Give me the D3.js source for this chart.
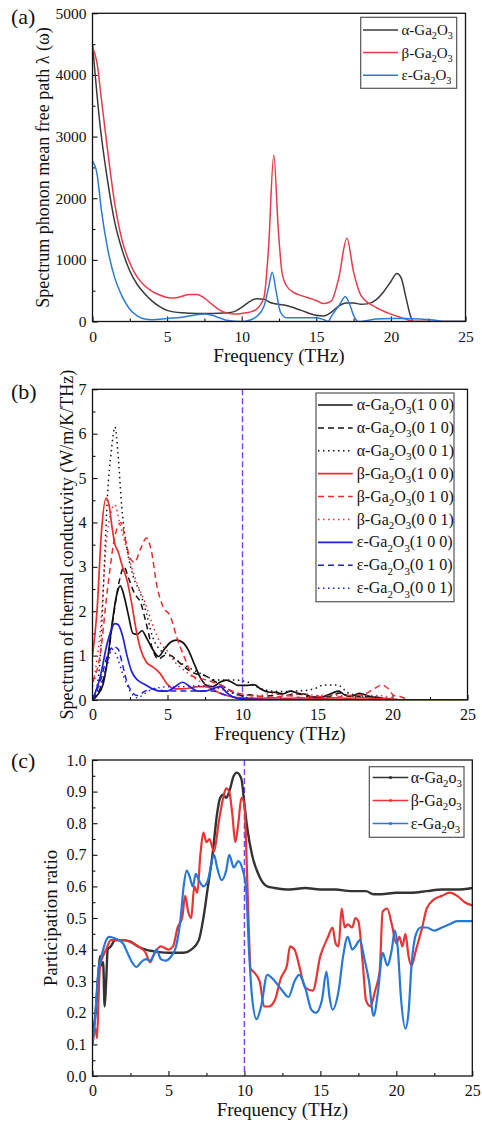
<!DOCTYPE html>
<html><head><meta charset="utf-8">
<script src="https://cdn.jsdelivr.net/npm/d3@7"></script>
<style>body{margin:0;background:#fff}svg{display:block}svg text{font-family:"Liberation Serif","Tinos","Times New Roman","Nimbus Roman","DejaVu Serif",serif !important;fill:#111}</style>
</head><body><svg id="c" width="482" height="1124"></svg>
<script>
// ---------- Panel (a): spectrum phonon mean free path ----------
const aXTicks = [0,5,10,15,20,25];
const aYTicks = [0,1000,2000,3000,4000,5000];
const aAlpha = [[0,4500],[0.5,3200],[1,2300],[1.5,1600],[2,1150],[2.5,820],[3,600],[3.5,450],[4,330],[4.5,240],[5,180],[6,140],[7,130],[8,130],[9,140],[9.5,160],[10,230],[10.5,320],[11,370],[11.5,360],[12,300],[13,260],[14,180],[15,100],[15.5,90],[16,150],[16.5,250],[17,300],[17.5,300],[18,280],[18.5,290],[19,350],[19.5,480],[20,650],[20.4,780],[20.7,700],[21,400],[21.3,100],[21.5,0],[25,0]];
const aBeta = [[0,4450],[0.3,4200],[0.6,3600],[1,2800],[1.5,1900],[2,1300],[2.5,950],[3,720],[3.5,580],[4,490],[4.5,430],[5,390],[5.5,380],[6,410],[6.5,440],[7,440],[7.5,380],[8,280],[8.5,190],[9,140],[9.5,120],[10,130],[10.5,150],[11,200],[11.5,400],[11.8,1200],[12.15,2700],[12.45,1500],[12.7,800],[13,580],[13.5,470],[14,420],[15,340],[15.5,290],[16,330],[16.5,700],[17.05,1350],[17.5,800],[18,420],[19,230],[20,120],[21,40],[21.5,0],[25,0]];
const aEps = [[0,2600],[0.3,2400],[0.6,1800],[1,1200],[1.5,700],[2,400],[2.5,200],[3,90],[3.5,40],[4,30],[5,50],[6,70],[7,110],[7.5,120],[8,100],[8.5,60],[9,20],[10,0],[10.5,20],[11,80],[11.5,250],[11.8,550],[12.05,800],[12.3,500],[12.6,150],[13,60],[14,60],[15,60],[15.5,30],[15.8,0],[16,80],[16.5,250],[16.95,400],[17.2,300],[17.5,100],[17.8,0],[18.5,20],[19,40],[20,50],[21,50],[22,40],[23,20],[23.5,0],[25,0]];

// ---------- Panel (b): spectrum of thermal conductivity ----------
const bXTicks = [0,5,10,15,20,25];
const bYTicks = [0,1,2,3,4,5,6,7];
const bA100 = [[0,0],[0.3,0.1],[0.7,0.35],[1.0,0.9],[1.3,1.7],[1.6,2.35],[1.85,2.57],[2.1,2.35],[2.4,1.9],[2.7,1.5],[3.0,1.48],[3.3,1.56],[3.6,1.4],[4.0,1.15],[4.4,0.98],[4.8,1.15],[5.2,1.3],[5.6,1.35],[6.0,1.3],[6.4,1.12],[6.8,0.8],[7.2,0.5],[7.6,0.33],[8.0,0.3],[8.5,0.4],[8.9,0.45],[9.3,0.4],[9.7,0.33],[10.2,0.33],[10.8,0.34],[11.2,0.25],[11.7,0.18],[12.2,0.17],[12.7,0.14],[13.2,0.2],[13.7,0.15],[14.2,0.13],[14.6,0.07],[15.2,0.06],[15.8,0.13],[16.4,0.2],[16.8,0.12],[17.2,0.08],[17.8,0.15],[18.4,0.09],[19.0,0.05],[19.5,0.03],[20,0],[25,0]];
const bA010 = [[0,0],[0.5,0.25],[1.0,0.9],[1.4,1.9],[1.8,2.7],[2.1,3.0],[2.4,2.75],[2.8,2.4],[3.2,2.2],[3.6,1.7],[4.0,1.15],[4.4,0.92],[4.8,1.0],[5.2,1.0],[5.6,0.9],[6.0,0.78],[6.5,0.65],[7.0,0.58],[7.5,0.55],[8.0,0.45],[8.5,0.35],[9.0,0.25],[9.5,0.15],[10,0.1],[10.5,0.12],[11,0.08],[12,0.1],[12.5,0.14],[13,0.1],[13.5,0.15],[14,0.12],[14.5,0.06],[15,0.05],[16,0.1],[16.5,0.16],[17,0.1],[18,0.08],[19,0.06],[20,0.02],[20.5,0],[25,0]];
const bA001 = [[0,0],[0.3,0.3],[0.5,0.9],[0.8,3.1],[1.0,4.6],[1.25,5.6],[1.5,6.15],[1.7,5.55],[1.95,4.35],[2.3,3.4],[2.7,2.8],[3.2,2.4],[3.6,1.95],[4.0,1.43],[4.5,1.13],[4.9,1.05],[5.6,0.9],[6.3,0.75],[7.2,0.6],[8.3,0.45],[9.4,0.45],[10.3,0.41],[11.2,0.26],[12.0,0.2],[12.7,0.19],[13.5,0.2],[14.3,0.22],[15.0,0.28],[15.4,0.34],[16.3,0.34],[17.1,0.15],[18.2,0.08],[19.4,0.04],[20,0.01],[20.5,0],[25,0]];
const bB100 = [[0,1.0],[0.3,2.0],[0.6,3.8],[0.9,4.55],[1.1,4.4],[1.3,3.9],[1.5,3.5],[1.7,3.35],[2.0,3.0],[2.3,2.7],[2.6,2.2],[2.9,1.6],[3.2,1.15],[3.6,0.85],[4.0,0.75],[4.5,0.6],[5.0,0.35],[5.5,0.25],[6,0.25],[6.5,0.27],[7,0.3],[7.5,0.3],[8,0.25],[8.5,0.15],[9,0.1],[9.5,0.06],[10,0.05],[11,0.04],[12,0.05],[13,0.04],[14,0.05],[15,0.03],[16,0.05],[17,0.04],[18,0.05],[19,0.03],[20,0.02],[20.5,0],[25,0]];
const bB010 = [[0,0.4],[0.5,1.0],[1.0,2.5],[1.5,3.7],[1.9,4.0],[2.2,3.6],[2.5,3.2],[2.8,3.1],[3.2,3.4],[3.6,3.65],[3.9,3.4],[4.3,2.56],[4.7,2.1],[5.2,1.88],[5.6,1.43],[6.2,0.9],[6.7,0.53],[7.6,0.45],[8.5,0.34],[9.4,0.19],[10.3,0.11],[11,0.08],[12,0.06],[13,0.1],[14,0.05],[15,0.08],[16,0.05],[17,0.1],[18,0.12],[18.8,0.26],[19.3,0.34],[19.7,0.26],[20.1,0.1],[20.5,0.08],[20.9,0.03],[21.2,0],[25,0]];
const bB001 = [[0,0.3],[0.5,1.5],[1.0,3.8],[1.5,4.4],[1.8,4.0],[2.2,3.5],[2.6,3.0],[3.0,2.6],[3.5,2.2],[4.0,1.7],[4.5,1.3],[5.0,1.1],[5.5,0.85],[6.0,0.7],[7.0,0.45],[8.0,0.3],[9.0,0.2],[10.0,0.12],[11,0.1],[12,0.15],[13,0.1],[14,0.14],[15,0.1],[16,0.12],[17,0.08],[18,0.1],[19,0.1],[20,0.05],[20.5,0],[25,0]];
const bE100 = [[0,0],[0.5,0.5],[1.0,1.3],[1.5,1.72],[1.7,1.7],[2.0,1.45],[2.3,1.0],[2.6,0.65],[3.0,0.45],[3.5,0.35],[4.0,0.25],[4.5,0.2],[5,0.2],[5.5,0.3],[6,0.4],[6.5,0.3],[7,0.2],[7.5,0.2],[8,0.25],[8.5,0.3],[9,0.15],[9.5,0.05],[10,0.02],[11,0.01],[12,0.01],[25,0]];
const bE010 = [[0,0],[0.5,0.4],[1.0,1.0],[1.4,1.2],[1.7,1.15],[2.0,0.8],[2.3,0.4],[2.6,0.2],[3,0.1],[3.5,0.2],[4,0.25],[5,0.2],[6,0.2],[7,0.2],[8,0.2],[9,0.1],[10,0.03],[11,0],[25,0]];
const bE001 = [[0,0],[0.5,0.3],[1,0.8],[1.3,1.15],[1.6,1.0],[2,0.6],[2.5,0.2],[3,0.05],[3.5,0.15],[4,0.25],[4.5,0.28],[5,0.3],[6,0.3],[7,0.32],[8,0.3],[8.5,0.28],[9,0.2],[10,0.08],[11,0.02],[12,0],[25,0]];

// ---------- Panel (c): participation ratio ----------
const cXTicks = [0,5,10,15,20,25];
const cYTicks = [0,0.1,0.2,0.3,0.4,0.5,0.6,0.7,0.8,0.9,1.0];
const cAlpha = [[0,0.12],[0.2,0.2],[0.4,0.33],[0.5,0.38],[0.6,0.35],[0.7,0.36],[0.8,0.22],[0.9,0.3],[1.0,0.4],[1.2,0.41],[1.5,0.43],[2,0.43],[2.5,0.425],[3,0.41],[3.5,0.4],[4,0.395],[5,0.39],[6,0.39],[6.5,0.4],[7,0.43],[7.3,0.5],[7.6,0.6],[7.9,0.7],[8.2,0.83],[8.4,0.88],[8.6,0.89],[8.8,0.88],[9,0.9],[9.3,0.95],[9.5,0.96],[9.8,0.94],[10,0.86],[10.2,0.78],[10.5,0.7],[11,0.63],[11.5,0.6],[12,0.595],[13,0.59],[14,0.595],[15,0.59],[16,0.59],[17,0.585],[18,0.585],[18.5,0.575],[19,0.575],[20,0.58],[21,0.58],[22,0.585],[23,0.59],[24,0.59],[25,0.595]];
const cBeta = [[0,0.1],[0.2,0.15],[0.3,0.12],[0.4,0.25],[0.5,0.35],[0.7,0.38],[0.9,0.4],[1.2,0.43],[2,0.43],[3,0.41],[3.5,0.39],[3.8,0.36],[4.0,0.38],[4.5,0.41],[5.0,0.4],[5.3,0.41],[5.6,0.47],[5.9,0.5],[6.1,0.57],[6.3,0.52],[6.5,0.5],[6.7,0.6],[6.9,0.58],[7.1,0.7],[7.3,0.77],[7.5,0.74],[7.7,0.75],[8.0,0.71],[8.3,0.8],[8.6,0.88],[8.8,0.91],[9.0,0.9],[9.2,0.83],[9.4,0.74],[9.6,0.8],[9.8,0.88],[10.0,0.86],[10.1,0.75],[10.2,0.6],[10.3,0.45],[10.4,0.34],[10.6,0.33],[11.0,0.3],[11.3,0.22],[11.6,0.22],[12,0.24],[12.4,0.31],[12.8,0.35],[13.0,0.41],[13.3,0.4],[13.6,0.35],[14,0.28],[14.5,0.27],[15,0.38],[15.5,0.44],[15.8,0.47],[16.0,0.42],[16.2,0.41],[16.4,0.53],[16.6,0.47],[16.8,0.48],[17.1,0.47],[17.3,0.5],[17.5,0.49],[17.8,0.35],[18,0.24],[18.3,0.22],[18.6,0.27],[18.9,0.33],[19.1,0.52],[19.4,0.53],[19.7,0.48],[20.0,0.42],[20.2,0.44],[20.4,0.41],[20.6,0.45],[20.8,0.38],[21.0,0.35],[21.3,0.4],[21.7,0.47],[22,0.53],[22.5,0.56],[23,0.57],[23.5,0.58],[24,0.57],[24.5,0.55],[25,0.54]];
const cEps = [[0,0.1],[0.2,0.2],[0.3,0.28],[0.4,0.34],[0.5,0.36],[0.7,0.4],[0.9,0.43],[1.1,0.44],[1.5,0.435],[2,0.42],[2.3,0.39],[2.6,0.36],[2.9,0.345],[3.2,0.36],[3.5,0.37],[3.8,0.365],[4.0,0.38],[4.2,0.4],[4.5,0.37],[4.8,0.365],[5.2,0.38],[5.5,0.41],[5.8,0.5],[6.0,0.6],[6.2,0.65],[6.4,0.63],[6.6,0.6],[6.8,0.64],[7.0,0.62],[7.3,0.6],[7.6,0.62],[8.0,0.7],[8.2,0.66],[8.5,0.62],[8.8,0.65],[9.0,0.7],[9.3,0.66],[9.6,0.68],[9.9,0.65],[10.1,0.6],[10.3,0.4],[10.5,0.25],[10.8,0.18],[11.1,0.22],[11.5,0.32],[12,0.3],[12.5,0.27],[12.9,0.25],[13.3,0.3],[13.6,0.32],[14.0,0.28],[14.4,0.21],[14.7,0.2],[15.1,0.24],[15.4,0.33],[15.6,0.25],[15.8,0.21],[16.2,0.27],[16.5,0.38],[16.8,0.44],[17.1,0.4],[17.3,0.41],[17.6,0.43],[17.9,0.37],[18.2,0.3],[18.5,0.19],[18.8,0.27],[19.1,0.39],[19.4,0.35],[19.7,0.4],[19.9,0.46],[20.1,0.4],[20.3,0.25],[20.6,0.15],[20.8,0.2],[21.0,0.35],[21.3,0.45],[21.6,0.47],[22,0.47],[22.5,0.46],[23,0.47],[23.5,0.48],[24,0.49],[25,0.49]];

const FONT = "'Liberation Serif','Tinos','Times New Roman','Nimbus Roman','DejaVu Serif',serif";
const svg = d3.select("#c");
svg.append("rect").attr("width",482).attr("height",1124).attr("fill","#fff");

function addSubText(sel, parts, fs){
  parts.forEach(([s,sub],i)=>{
    const t = sel.append("tspan").text(s);
    if(sub){ t.attr("font-size", fs*0.68).attr("dy", fs*0.28); }
    else if(i>0 && parts[i-1][1]){ t.attr("dy", -fs*0.28); }
  });
}

function panel(cfg){
  const g = svg.append("g").attr("font-family",FONT);
  const x = d3.scaleLinear().domain([0,25]).range([cfg.l, cfg.r]);
  const y = d3.scaleLinear().domain(cfg.yDom).range([cfg.b, cfg.t]);
  const cid = "clip"+cfg.id;
  svg.append("clipPath").attr("id",cid).append("rect")
    .attr("x",cfg.l).attr("y",cfg.t).attr("width",cfg.r-cfg.l).attr("height",cfg.b-cfg.t);
  const xa = g.append("g").attr("transform",`translate(0,${cfg.b})`)
    .call(d3.axisBottom(x).tickValues(cfg.xTicks).tickSize(-5).tickPadding(9).tickFormat(d3.format("d")));
  const xm = g.append("g").attr("transform",`translate(0,${cfg.b})`)
    .call(d3.axisBottom(x).tickValues(cfg.xMinor).tickSize(-3).tickFormat(""));
  const ya = g.append("g").attr("transform",`translate(${cfg.l},0)`)
    .call(d3.axisLeft(y).tickValues(cfg.yTicks).tickSize(-5).tickPadding(6).tickFormat(cfg.yFmt));
  const ym = g.append("g").attr("transform",`translate(${cfg.l},0)`)
    .call(d3.axisLeft(y).tickValues(cfg.yMinor).tickSize(-3).tickFormat(""));
  [xa,xm,ya,ym].forEach(a=>{a.attr("font-family",FONT); a.select(".domain").remove();
    a.selectAll("line").attr("stroke","#111").attr("stroke-width",1.1);
    a.selectAll("text").attr("font-size",cfg.tickFs).attr("fill","#111").attr("font-family",FONT);});
  if(cfg.vline!==undefined){
    g.append("line").attr("x1",x(cfg.vline)).attr("x2",x(cfg.vline)).attr("y1",cfg.t).attr("y2",cfg.b)
      .attr("stroke","#7b3ff0").attr("stroke-width",1.4).attr("stroke-dasharray","6,3");
  }
  const line = d3.line().x(d=>x(d[0])).y(d=>y(d[1])).curve(d3.curveMonotoneX);
  const lg = g.append("g").attr("clip-path",`url(#${cid})`);
  cfg.series.forEach(s=>{
    lg.append("path").datum(s.data).attr("d",line).attr("fill","none")
      .attr("stroke",s.color).attr("stroke-width",s.w||1.5).attr("stroke-dasharray",s.dash||null)
      .attr("stroke-linejoin","round");
  });
  g.append("rect").attr("x",cfg.l).attr("y",cfg.t).attr("width",cfg.r-cfg.l).attr("height",cfg.b-cfg.t)
    .attr("fill","none").attr("stroke","#111").attr("stroke-width",1.3);
  g.append("text").attr("x",(cfg.l+cfg.r)/2).attr("y",cfg.b+40).attr("text-anchor","middle")
    .attr("font-size",19).text("Frequency (THz)");
  g.append("text").attr("transform",`translate(${cfg.ylx},${(cfg.t+cfg.b)/2}) rotate(-90)`)
    .attr("text-anchor","middle").attr("font-size",cfg.ylFs||19).text(cfg.ylab);
  g.append("text").attr("x",11).attr("y",cfg.tagY).attr("font-size",22).text(cfg.tag);
  const L = cfg.leg;
  g.append("rect").attr("x",L.x0).attr("y",L.y0).attr("width",L.x1-L.x0).attr("height",L.y1-L.y0)
    .attr("fill","#fff").attr("stroke","#555").attr("stroke-width",1.2);
  cfg.series.forEach((s,i)=>{
    const yy = L.first + i*L.step;
    g.append("line").attr("x1",L.lx0).attr("x2",L.lx1).attr("y1",yy).attr("y2",yy)
      .attr("stroke",s.color).attr("stroke-width",L.marker?1.3:(s.w||1.5)).attr("stroke-dasharray",s.dash||null);
    if(L.marker) g.append("circle").attr("cx",(L.lx0+L.lx1)/2).attr("cy",yy).attr("r",1.6).attr("fill",s.color);
    const t = g.append("text").attr("x",L.tx).attr("y",yy+5).attr("font-size",L.fs);
    addSubText(t, s.label, L.fs);
  });
}

const lab = (ph, o, suf) => { const p=[[ph+"-Ga",false],["2",true],[o,false],["3",true]]; if(suf) p.push([suf,false]); return p; };

panel({id:"a", l:92.5, r:465.5, t:13.3, b:321.5, yDom:[0,5000],
  xTicks:aXTicks, xMinor:[2.5,7.5,12.5,17.5,22.5], yTicks:aYTicks, yMinor:[500,1500,2500,3500,4500],
  yFmt:d3.format("d"), tickFs:15.5, ylx:49, ylab:"Spectrum phonon mean free path λ (ω)", ylFs:18,
  tag:"(a)", tagY:24,
  series:[
    {data:aAlpha, color:"#3a3a3a", label:lab("α","O")},
    {data:aBeta, color:"#e83a4a", label:lab("β","O")},
    {data:aEps, color:"#2b7bd6", label:lab("ε","O")}
  ],
  leg:{x0:360.7,x1:456.7,y0:17.3,y1:88.3, first:30, step:22.6, lx0:363, lx1:398, tx:401.5, fs:15}
});

panel({id:"b", l:92.5, r:467.5, t:389.3, b:700, yDom:[0,7],
  xTicks:bXTicks, xMinor:[2.5,7.5,12.5,17.5,22.5], yTicks:bYTicks, yMinor:[0.5,1.5,2.5,3.5,4.5,5.5,6.5],
  yFmt:d3.format("d"), tickFs:16, ylx:73, ylab:"Spectrum of thermal conductivity (W/m/K/THz)", ylFs:18,
  tag:"(b)", tagY:399, vline:10,
  series:[
    {data:bA100, color:"#111", w:1.7, label:lab("α","O","(1 0 0)")},
    {data:bA010, color:"#111", w:1.5, dash:"6,4", label:lab("α","O","(0 1 0)")},
    {data:bA001, color:"#111", w:1.5, dash:"1.5,3.5", label:lab("α","O","(0 0 1)")},
    {data:bB100, color:"#ee2b2b", w:1.7, label:lab("β","O","(1 0 0)")},
    {data:bB010, color:"#ee2b2b", w:1.5, dash:"6,4", label:lab("β","O","(0 1 0)")},
    {data:bB001, color:"#ee2b2b", w:1.5, dash:"1.5,3.5", label:lab("β","O","(0 0 1)")},
    {data:bE100, color:"#1f1fe0", w:1.7, label:lab("ε","O","(1 0 0)")},
    {data:bE010, color:"#1f1fe0", w:1.5, dash:"6,4", label:lab("ε","O","(0 1 0)")},
    {data:bE001, color:"#1f1fe0", w:1.5, dash:"1.5,3.5", label:lab("ε","O","(0 0 1)")}
  ],
  leg:{x0:316,x1:454,y0:393,y1:601.7, first:405, step:22.9, lx0:318, lx1:352.7, tx:356.7, fs:16}
});

panel({id:"c", l:92.5, r:472.3, t:760, b:1076, yDom:[0,1],
  xTicks:cXTicks, xMinor:[2.5,7.5,12.5,17.5,22.5], yTicks:cYTicks, yMinor:d3.range(0.05,1,0.1),
  yFmt:d3.format(".1f"), tickFs:16, ylx:57, ylab:"Participation ratio", ylFs:19,
  tag:"(c)", tagY:768, vline:10,
  series:[
    {data:cAlpha, color:"#333", w:2.4, label:lab("α","o")},
    {data:cBeta, color:"#e83434", w:2.2, label:lab("β","o")},
    {data:cEps, color:"#2577d8", w:2.2, label:lab("ε","o")}
  ],
  leg:{x0:369.3,x1:464,y0:766.7,y1:837.3, first:777.5, step:23, lx0:372.7, lx1:408.3, tx:410.7, fs:16, marker:true}
});
</script></body></html>
